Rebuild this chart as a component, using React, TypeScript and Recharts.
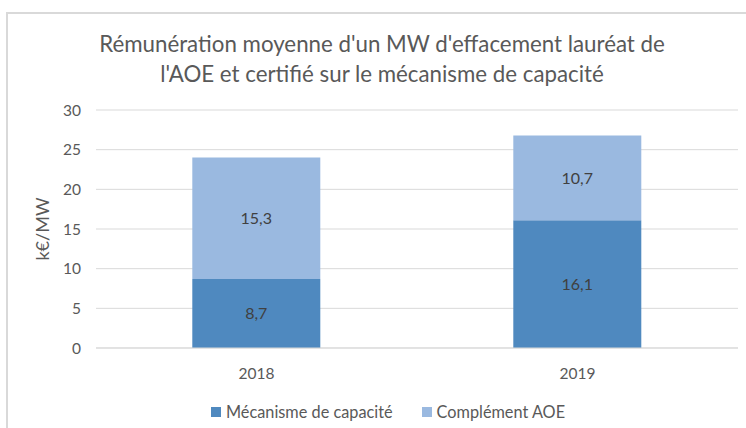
import { BarChart, Bar, XAxis, YAxis, CartesianGrid, LabelList } from 'recharts';

const years = ['2018', '2019'];
const mecanisme = [8.7, 16.1];
const complement = [15.3, 10.7];
const yTicks = [0, 5, 10, 15, 20, 25, 30];

const DARK = '#4f89bf';
const LIGHT = '#9ab9e0';
const TEXT = '#595959';
const FONT = 'Lato, "Noto Sans", sans-serif';

const data = years.map((year, i) => ({
  year,
  mecanisme: mecanisme[i],
  complement: complement[i],
}));

const fmt = (v: unknown) => String(v).replace('.', ',');

const legendItems = [
  { label: 'Mécanisme de capacité', color: DARK },
  { label: 'Complément AOE', color: LIGHT },
];

export default function App() {
  return (
    <div
      style={{
        position: 'absolute',
        left: 6,
        top: 12,
        width: 740,
        height: 416,
        boxSizing: 'border-box',
        borderLeft: '2px solid #d9d9d9',
        borderTop: '2px solid #d9d9d9',
        background: '#fff',
        fontFamily: FONT,
        overflow: 'hidden',
      }}
    >
      <div
        style={{
          position: 'absolute',
          top: 15,
          left: 0,
          width: 748,
          textAlign: 'center',
          fontSize: 22.3,
          lineHeight: '30px',
          color: TEXT,
        }}
      >
        Rémunération moyenne d'un MW d'effacement lauréat de
        <br />
        l'AOE et certifié sur le mécanisme de capacité
      </div>
      <BarChart
        width={738}
        height={414}
        data={data}
        barCategoryGap="30%"
        margin={{ top: 96, right: 8, bottom: 50, left: 0 }}
      >
        <CartesianGrid vertical={false} stroke="#d9d9d9" />
        <XAxis
          dataKey="year"
          height={30}
          axisLine={{ stroke: '#d9d9d9' }}
          tickLine={false}
          tickSize={0}
          tickMargin={20}
          tick={{ fill: TEXT, fontSize: 15.5, fontFamily: FONT }}
        />
        <YAxis
          width={88}
          domain={[0, 30]}
          ticks={yTicks}
          axisLine={false}
          tickLine={false}
          tickSize={0}
          tickMargin={15}
          tick={{ fill: TEXT, fontSize: 15.5, fontFamily: FONT }}
          label={{
            value: 'k€/MW',
            angle: -90,
            position: 'insideLeft',
            offset: 35,
            style: { fill: TEXT, fontSize: 18, fontFamily: FONT, textAnchor: 'middle' },
          }}
        />
        <Bar dataKey="mecanisme" stackId="a" fill={DARK} isAnimationActive={false}>
          <LabelList
            dataKey="mecanisme"
            position="center"
            formatter={fmt}
            style={{ fill: '#404040', fontSize: 16, fontFamily: FONT }}
          />
        </Bar>
        <Bar dataKey="complement" stackId="a" fill={LIGHT} isAnimationActive={false}>
          <LabelList
            dataKey="complement"
            position="center"
            formatter={fmt}
            style={{ fill: '#404040', fontSize: 16, fontFamily: FONT }}
          />
        </Bar>
      </BarChart>
      <div
        style={{
          position: 'absolute',
          top: 388,
          left: 203,
          display: 'flex',
          alignItems: 'center',
          fontSize: 16.3,
          color: TEXT,
        }}
      >
        {legendItems.map((item) => (
          <div key={item.label} style={{ display: 'flex', alignItems: 'center', marginRight: 29 }}>
            <span
              style={{
                display: 'inline-block',
                width: 10,
                height: 10,
                background: item.color,
                marginRight: 5,
              }}
            />
            <span>{item.label}</span>
          </div>
        ))}
      </div>
    </div>
  );
}
